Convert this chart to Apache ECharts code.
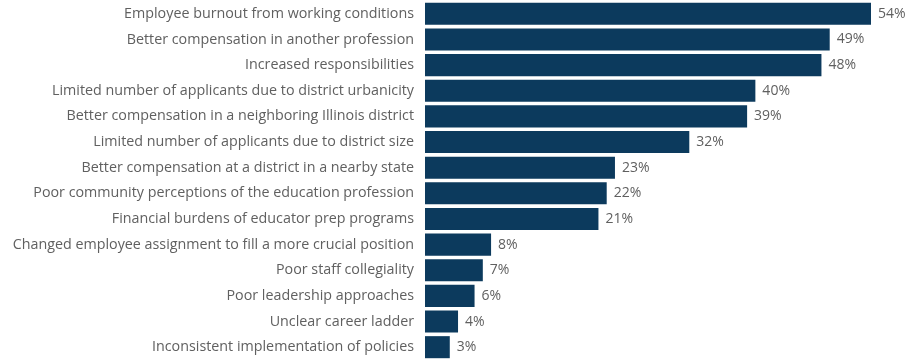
<!DOCTYPE html>
<html>
<head>
<meta charset="utf-8">
<script src="https://cdn.jsdelivr.net/npm/echarts@6/dist/echarts.min.js"></script>
<style>
  html, body { margin: 0; padding: 0; background: #ffffff; }
  #chart { width: 909px; height: 361px; }
</style>
</head>
<body>
<div id="chart"></div>
<script>
// Reasons reported, top to bottom
const categories = [
  'Employee burnout from working conditions',
  'Better compensation in another profession',
  'Increased responsibilities',
  'Limited number of applicants due to district urbanicity',
  'Better compensation in a neighboring Illinois district',
  'Limited number of applicants due to district size',
  'Better compensation at a district in a nearby state',
  'Poor community perceptions of the education profession',
  'Financial burdens of educator prep programs',
  'Changed employee assignment to fill a more crucial position',
  'Poor staff collegiality',
  'Poor leadership approaches',
  'Unclear career ladder',
  'Inconsistent implementation of policies'
];
// Share of respondents (%)
const shares = [54, 49, 48, 40, 39, 32, 23, 22, 21, 8, 7, 6, 4, 3];

const chart = echarts.init(document.getElementById('chart'));
chart.setOption({
  animation: false,
  grid: { left: 425, right: 38, top: 1, bottom: 1, containLabel: false },
  xAxis: {
    type: 'value', min: 0, max: 54, show: false
  },
  yAxis: {
    type: 'category',
    data: categories,
    inverse: true,
    axisLine: { show: false },
    axisTick: { show: false },
    axisLabel: {
      margin: 11,
      color: '#606060',
      fontFamily: 'Open Sans',
      fontSize: 14.3
    }
  },
  series: [{
    type: 'bar',
    data: shares,
    barCategoryGap: '14%',
    itemStyle: { color: '#0c3a5d' },
    label: {
      show: true,
      position: 'right',
      distance: 7,
      formatter: p => p.value + '%',
      color: '#606060',
      fontFamily: 'Open Sans',
      fontSize: 14
    }
  }]
});
</script>
</body>
</html>
